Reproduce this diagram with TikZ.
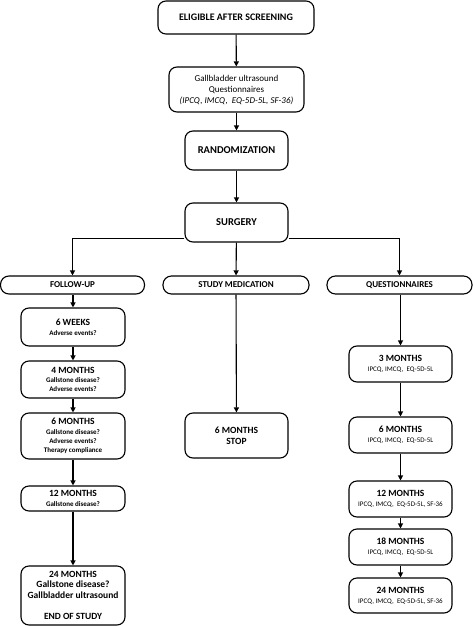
\documentclass[tikz,border=0pt]{standalone}
\usepackage{fontspec}
\setmainfont{Carlito}
\usetikzlibrary{arrows.meta}
\newcommand{\hdfont}{\bfseries\fontsize{9.5}{10}\selectfont}
\begin{document}
\begin{tikzpicture}[x=1pt,y=-1pt,
  box/.style={draw,line width=1.1pt,rounded corners=8pt,align=center,inner sep=1pt,minimum width=103pt},
  wide/.style={draw,line width=1.1pt,rounded corners=8.5pt,align=center,inner sep=1pt,minimum width=145pt,minimum height=18pt,font=\bfseries\fontsize{9}{10}\selectfont},
  arr/.style={line width=1.1pt,-{Triangle[length=5pt,width=5pt]}},
  big/.style={font=\bfseries\fontsize{10.5}{12}\selectfont},
  hd/.style={font=\hdfont},
  sb/.style={font=\bfseries\fontsize{7}{9.3}\selectfont},
  sq/.style={font=\fontsize{7}{9}\selectfont},
]
\useasboundingbox (0,0) rectangle (473,626);
\node[box,font=\bfseries\fontsize{10}{12}\selectfont,minimum width=156pt,minimum height=33pt] (elig) at (236,17.5) {ELIGIBLE AFTER SCREENING};
\node[box,minimum width=135pt,minimum height=45pt,font=\fontsize{9}{11}\selectfont] (gall) at (236.5,89.5) {Gallbladder ultrasound\\Questionnaires\\\textit{(IPCQ, IMCQ,\ \ EQ-5D-5L, SF-36)}};
\node[box,big,minimum height=39pt] (rand) at (236.5,150.5) {RANDOMIZATION};
\node[box,big,minimum height=39pt] (surg) at (236.5,222.5) {SURGERY};

\node[wide,minimum width=144pt] (fu) at (72.5,285) {FOLLOW-UP};
\node[wide,minimum width=146pt] (sm) at (236,285) {STUDY MEDICATION};
\node[wide] (qu) at (399.5,285) {QUESTIONNAIRES};

% left column
\node[box,sb,minimum width=104pt,minimum height=38pt] (w6) at (73,327) {{\hdfont 6 WEEKS}\\[1pt]Adverse events?};
\node[box,sb,minimum width=104pt,minimum height=37pt] (m4) at (73,379.5) {{\hdfont 4 MONTHS}\\Gallstone disease?\\Adverse events?};
\node[box,sb,minimum width=104pt,minimum height=46pt] (m6) at (73,436) {{\hdfont 6 MONTHS}\\Gallstone disease?\\Adverse events?\\Therapy compliance};
\node[box,sb,minimum width=104pt,minimum height=25pt] (m12) at (73,498.5) {{\hdfont 12 MONTHS}\\Gallstone disease?};
\node[box,minimum width=104pt,minimum height=59pt,font=\bfseries\fontsize{9.5}{10.5}\selectfont] (m24) at (73,595.5) {24 MONTHS\\Gallstone disease?\\Gallbladder ultrasound\\[11pt]END OF STUDY};

% middle
\node[box,font=\bfseries\fontsize{9.5}{11}\selectfont,minimum height=45pt] (stop) at (236.5,435.5) {6 MONTHS\\STOP};

% right column
\node[box,sq,minimum height=36pt] (q3) at (400.5,364) {{\hdfont 3 MONTHS}\\[1pt]IPCQ, IMCQ,\ \ EQ-5D-5L};
\node[box,sq,minimum height=36pt] (q6) at (400.5,435) {{\hdfont 6 MONTHS}\\[1pt]IPCQ, IMCQ,\ \ EQ-5D-5L};
\node[box,sq,minimum height=36pt] (q12) at (400.5,499) {{\hdfont 12 MONTHS}\\[1pt]IPCQ, IMCQ,\ \ EQ-5D-5L, SF-36};
\node[box,sq,minimum height=36pt] (q18) at (400.5,547) {{\hdfont 18 MONTHS}\\[1pt]IPCQ, IMCQ,\ \ EQ-5D-5L};
\node[box,sq,minimum height=35pt] (q24) at (400.5,595.5) {{\hdfont 24 MONTHS}\\[1pt]IPCQ, IMCQ,\ \ EQ-5D-5L, SF-36};

% connectors
\draw[arr] (elig) -- (gall);
\draw[arr] (gall) -- (rand);
\draw[arr] (rand) -- (surg);
\draw[arr] ([yshift=4pt]surg.south west) -| (fu.north);
\draw[arr] ([yshift=4pt]surg.south east) -| (qu.north);
\draw[arr] (surg) -- (sm);
\draw[arr] (sm) -- (stop);
\draw[arr] (fu.south -| w6.north) -- (w6);
\draw[arr] (w6) -- (m4);
\draw[arr] (m4) -- (m6);
\draw[arr] (m6) -- (m12);
\draw[arr] (m12) -- (m24);
\draw[arr] (qu.south -| q3.north) -- (q3);
\draw[arr] (q3) -- (q6);
\draw[arr] (q6) -- (q12);
\draw[arr] (q12) -- (q18);
\draw[arr] (q18) -- (q24);
\end{tikzpicture}
\end{document}
